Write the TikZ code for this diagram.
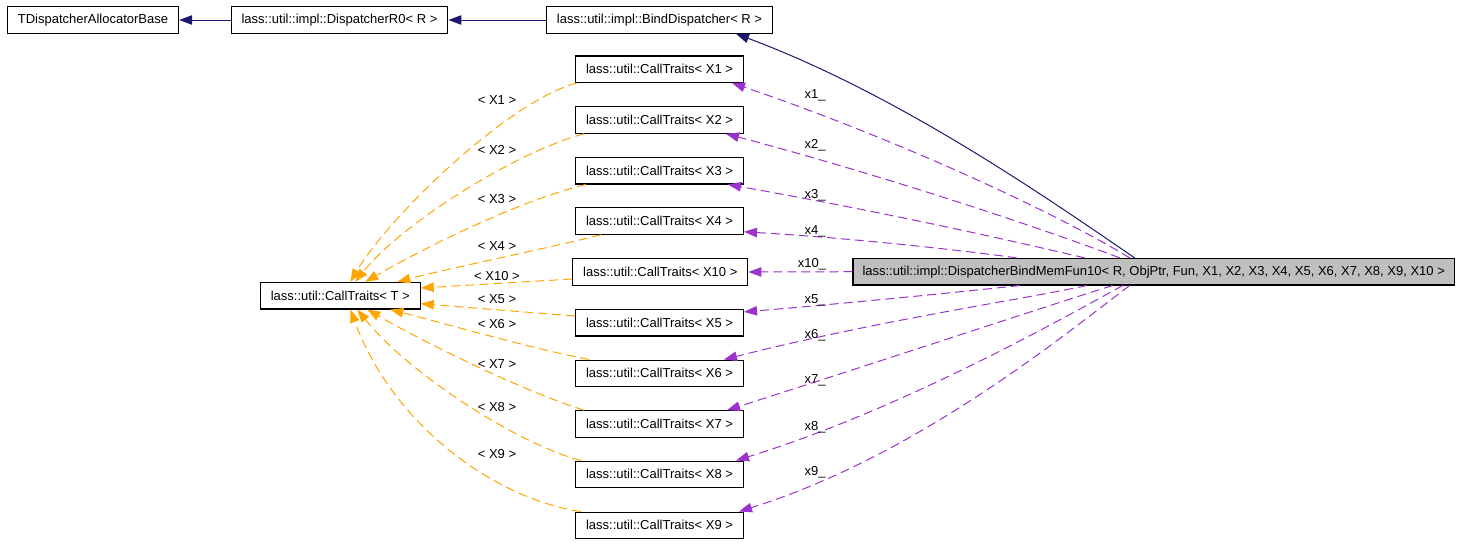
\documentclass[tikz,border=0pt]{standalone}
\usepackage{fontspec}
\setmainfont{Liberation Sans}
\usepackage{tikz}
\usetikzlibrary{shapes,arrows.meta}
\definecolor{edgenavy}{HTML}{191970}
\definecolor{edgeorchid}{HTML}{9A32CD}
\definecolor{edgeorange}{HTML}{FFA500}

\begin{document}
\begin{tikzpicture}[x=1pt, y=-1pt, >={Triangle[length=13pt,width=9.5pt]},
    font=\fontsize{13}{15}\selectfont]
    \tikzstyle{cls} = [rectangle, draw, line width=1.1pt, fill=white,
        minimum height=26.5pt, inner xsep=10.5pt, inner ysep=0pt]
    \tikzstyle{inherit} = [draw, ->, edgenavy, line width=1pt]
    \tikzstyle{member} = [draw, ->, edgeorchid, line width=1pt, dash pattern=on 9pt off 5pt]
    \tikzstyle{tmpl} = [draw, ->, edgeorange, line width=1pt, dash pattern=on 9pt off 5pt]
    \tikzstyle{lbl} = [inner sep=0pt]

    \useasboundingbox (0,0) rectangle (1459,544);

    % classes
    \node [cls] (base) at (93,20) {TDispatcherAllocatorBase};
    \node [cls] (r0) at (339.5,20) {lass::util::impl::DispatcherR0< R >};
    \node [cls] (bind) at (659.5,20) {lass::util::impl::BindDispatcher< R >};
    \node [cls] (ctT) at (340.3,295.7) {lass::util::CallTraits< T >};
    \node [cls] (ct1) at (659.5,69.2) {lass::util::CallTraits< X1 >};
    \node [cls] (ct2) at (659.5,120) {lass::util::CallTraits< X2 >};
    \node [cls] (ct3) at (659.5,170.7) {lass::util::CallTraits< X3 >};
    \node [cls] (ct4) at (659.5,221) {lass::util::CallTraits< X4 >};
    \node [cls] (ct10) at (660.3,272) {lass::util::CallTraits< X10 >};
    \node [cls] (ct5) at (659.5,322.7) {lass::util::CallTraits< X5 >};
    \node [cls] (ct6) at (659.5,373.3) {lass::util::CallTraits< X6 >};
    \node [cls] (ct7) at (659.5,424) {lass::util::CallTraits< X7 >};
    \node [cls] (ct8) at (659.5,474.3) {lass::util::CallTraits< X8 >};
    \node [cls] (ct9) at (659.5,525.3) {lass::util::CallTraits< X9 >};
    \node [cls, fill=black!25, inner xsep=9.5pt] (fun) at (1153.7,271.7)
        {lass::util::impl::DispatcherBindMemFun10< R, ObjPtr, Fun, X1, X2, X3, X4, X5, X6, X7, X8, X9, X10 >};

    % inheritance
    \path [inherit] (r0) -- (base);
    \path [inherit] (bind) -- (r0);
    \path [inherit] ([xshift=-19pt]fun.north) .. controls (1050,200) and (900,95) .. ([xshift=76.5pt]bind.south);

    % template arguments
    \path [tmpl] ([xshift=2pt]ct1.south west) .. controls (510,100) and (390,215) .. ([xshift=10pt]ctT.north);
    \path [tmpl] ([xshift=9pt]ct2.south west) .. controls (515,152) and (400,225) .. ([xshift=15pt]ctT.north);
    \path [tmpl] ([xshift=11pt]ct3.south west) .. controls (520,200) and (420,250) .. ([xshift=25pt]ctT.north);
    \path [tmpl] ([xshift=26pt]ct4.south west) .. controls (540,250) and (450,268) .. ([xshift=57pt]ctT.north);
    \path [tmpl] ([yshift=-7pt]ct10.west) -- ([yshift=7.7pt]ctT.east);
    \path [tmpl] ([yshift=6.7pt]ct5.west) -- ([yshift=-8pt]ctT.east);
    \path [tmpl] ([xshift=14pt]ct6.north west) .. controls (530,348) and (450,325) .. ([xshift=50pt]ctT.south);
    \path [tmpl] ([xshift=9pt]ct7.north west) .. controls (520,390) and (420,340) .. ([xshift=27pt]ctT.south);
    \path [tmpl] ([xshift=6pt]ct8.north west) .. controls (520,445) and (410,375) .. ([xshift=17pt]ctT.south);
    \path [tmpl] ([xshift=6pt]ct9.north west) .. controls (500,500) and (395,430) .. ([xshift=10pt]ctT.south);

    \node [lbl] (t1) at (497,100) {< X1 >};
    \node [lbl] (t2) at (497,150) {< X2 >};
    \node [lbl] (t3) at (497,199) {< X3 >};
    \node [lbl] (t4) at (497,246) {< X4 >};
    \node [lbl] (t10) at (497,276) {< X10 >};
    \node [lbl] (t5) at (497,299) {< X5 >};
    \node [lbl] (t6) at (497,324) {< X6 >};
    \node [lbl] (t7) at (497,364) {< X7 >};
    \node [lbl] (t8) at (497,407) {< X8 >};
    \node [lbl] (t9) at (497,454) {< X9 >};

    % members
    \path [member] ([xshift=-24pt]fun.north) .. controls (1060,215) and (900,140) .. ([xshift=-12pt]ct1.south east);
    \path [member] ([xshift=-34pt]fun.north) .. controls (1060,235) and (900,180) .. ([xshift=-18pt]ct2.south east);
    \path [member] ([xshift=-69pt]fun.north) .. controls (1030,245) and (900,215) .. ([xshift=-16pt]ct3.south east);
    \path [member] ([xshift=-137pt]fun.north) .. controls (960,250) and (850,238) .. ([yshift=3pt]ct4.south east);
    \path [member] (fun.west) -- (ct10.east);
    \path [member] ([xshift=-134pt]fun.south) .. controls (960,292) and (850,303) .. ([yshift=-3pt]ct5.north east);
    \path [member] ([xshift=-67pt]fun.south) .. controls (1020,300) and (880,320) .. ([xshift=-20pt]ct6.north east);
    \path [member] ([xshift=-41pt]fun.south) .. controls (1050,305) and (900,355) .. ([xshift=-17pt]ct7.north east);
    \path [member] ([xshift=-31pt]fun.south) .. controls (1060,320) and (900,410) .. ([xshift=-8pt]ct8.north east);
    \path [member] ([xshift=-24pt]fun.south) .. controls (1070,330) and (920,455) .. ([xshift=-5pt]ct9.north east);

    \node [lbl] (m1) at (815,95) {x1\_};
    \node [lbl] (m2) at (815,145) {x2\_};
    \node [lbl] (m3) at (815,195) {x3\_};
    \node [lbl] (m4) at (815,231) {x4\_};
    \node [lbl] (m10) at (812,264) {x10\_};
    \node [lbl] (m5) at (815,300) {x5\_};
    \node [lbl] (m6) at (815,335) {x6\_};
    \node [lbl] (m7) at (815,380) {x7\_};
    \node [lbl] (m8) at (815,427) {x8\_};
    \node [lbl] (m9) at (815,472) {x9\_};
\end{tikzpicture}
\end{document}
